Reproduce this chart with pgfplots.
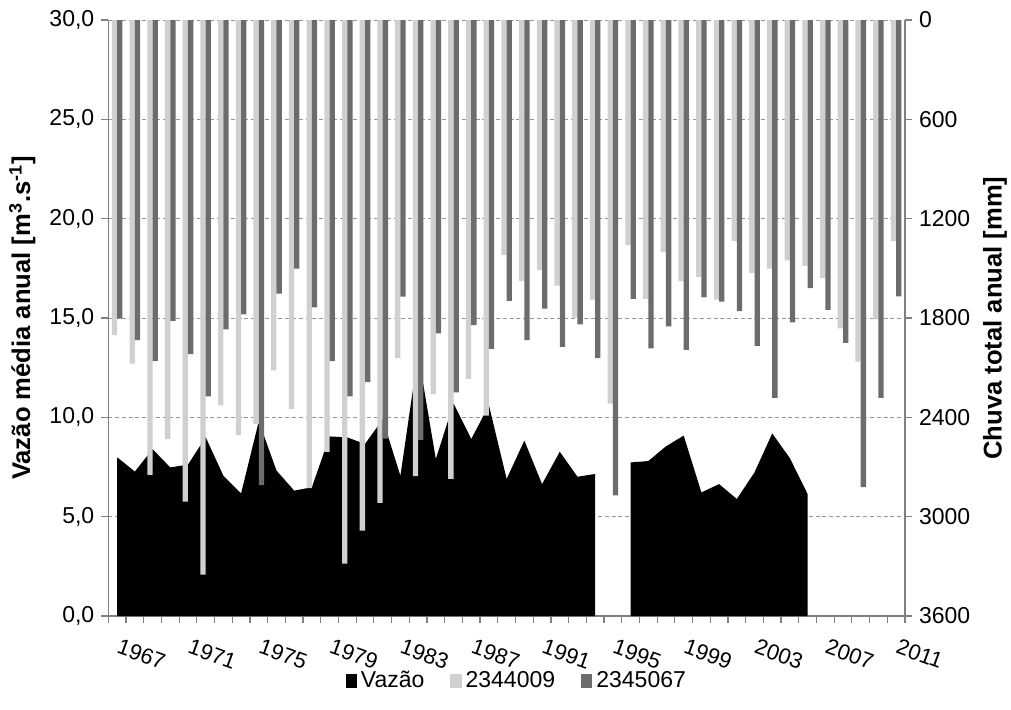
\documentclass[border=0pt]{standalone}
\usepackage{pgfplots}
\pgfplotsset{compat=1.18}
\usepackage{fontspec}
\setmainfont{Liberation Sans}
\definecolor{lightbar}{RGB}{208,208,208}
\definecolor{darkbar}{RGB}{108,108,108}
\definecolor{axgray}{RGB}{128,128,128}
\definecolor{gridgray}{RGB}{150,150,150}
\begin{document}
\begin{tikzpicture}
\pgfplotsset{
  common/.style={
    scale only axis, width=398.35pt, height=298pt,
    at={(0pt,0pt)}, anchor=south west,
    xmin=1966.5, xmax=2011.5,
    tick align=outside,
    major tick length=3.5pt, minor tick length=3.5pt,
    every tick/.style={axgray, line width=0.6pt},
    axis line style={axgray, line width=0.7pt},
    tick label style={font=\fontsize{11.5}{13}\selectfont},
    /pgf/number format/assume math mode=true,
    /pgf/number format/1000 sep={},
  },
}
\begin{axis}[common,
  axis x line*=bottom, axis y line*=left,
  ymin=0, ymax=30, ytick={0,5,...,30},
  yticklabel style={/pgf/number format/.cd, fixed, fixed zerofill, precision=1, use comma},
  ymajorgrids, grid style={gridgray, dash pattern=on 2pt off 1.4pt, line width=0.5pt},
  xtick={1967,1971,...,2011},
  major x tick style={draw=none},
  minor xtick={1966.5,1967.5,...,2011.5},
  xticklabel style={rotate=-20, anchor=north west, xshift=1pt, yshift=-3pt, font=\fontsize{11}{13}\selectfont},
  ylabel={\bfseries Vazão média anual [m\textsuperscript{3}.s\textsuperscript{-1}]},
  every axis y label/.style={at={(axis description cs:-0.108,0.5)}, rotate=90, anchor=center, font=\fontsize{12.8}{14}\selectfont},
]
\addplot[fill=black, draw=none] coordinates {
(1967,7.99) (1968,7.27) (1969,8.40) (1970,7.48) (1971,7.62) (1972,9.00) (1973,7.06)
(1974,6.17) (1975,9.80) (1976,7.32) (1977,6.31) (1978,6.48) (1979,9.04) (1980,8.99)
(1981,8.66) (1982,9.90) (1983,7.06) (1984,13.2) (1985,7.90) (1986,10.7) (1987,8.91)
(1988,10.6) (1989,6.90) (1990,8.83) (1991,6.64) (1992,8.27) (1993,7.01) (1994,7.15)
} \closedcycle;
\addplot[fill=black, draw=none] coordinates {
(1996,7.73) (1997,7.80) (1998,8.54) (1999,9.08) (2000,6.22) (2001,6.64) (2002,5.89)
(2003,7.23) (2004,9.19) (2005,7.94) (2006,6.14)
} \closedcycle;
\end{axis}
\begin{axis}[common,
  axis x line=none, axis y line*=right,
  ymin=0, ymax=3600, y dir=reverse, ytick={0,600,...,3600},
  ybar=0pt, bar width=2.65pt,
  ylabel={\bfseries Chuva total anual [mm]},
  every axis y label/.style={at={(axis description cs:1.113,0.5)}, rotate=90, anchor=center, font=\fontsize{12.8}{14}\selectfont},
  legend style={at={(axis description cs:0.514,-0.109)}, anchor=center, draw=none, fill=none,
    legend columns=3, font=\fontsize{11.5}{13}\selectfont,
    /tikz/every even column/.append style={column sep=11pt},
    inner sep=0pt},
  legend image code/.code={\fill[#1] (0pt,-3.3pt) rectangle (5.6pt,3.3pt);},
]
\addlegendimage{fill=black, draw=none}
\addlegendentry{Vazão}
\addplot[fill=lightbar, draw=none] coordinates {
(1967,1903) (1968,2075) (1969,2748) (1970,2531) (1971,2909) (1972,3350) (1973,2327)
(1974,2508) (1975,2441) (1976,2117) (1977,2349) (1978,2827) (1979,2608) (1980,3283)
(1981,3084) (1982,2917) (1983,2043) (1984,2755) (1985,2259) (1986,2772) (1987,2167)
(1988,2390) (1989,1420) (1990,1577) (1991,1510) (1992,1604) (1993,1798) (1994,1689)
(1995,2317) (1996,1360) (1997,1684) (1998,1402) (1999,1577) (2000,1552) (2001,1689)
(2002,1335) (2003,1527) (2004,1502) (2005,1452) (2006,1485) (2007,1559) (2008,1863)
(2009,2063) (2010,1808) (2011,1335)
};
\addlegendentry{2344009}
\addplot[fill=darkbar, draw=none] coordinates {
(1967,1803) (1968,1933) (1969,2060) (1970,1818) (1971,2018) (1972,2274) (1973,1868)
(1974,1778) (1975,2810) (1976,1652) (1977,1502) (1978,1736) (1979,2060) (1980,2274)
(1981,2187) (1982,2528) (1983,1671) (1984,2536) (1985,1893) (1986,2249) (1987,1843)
(1988,1987) (1989,1696) (1990,1933) (1991,1744) (1992,1975) (1993,1838) (1994,2043)
(1995,2872) (1996,1684) (1997,1983) (1998,1851) (1999,1993) (2000,1676) (2001,1701)
(2002,1759) (2003,1968) (2004,2282) (2005,1826) (2006,1619) (2007,1751) (2008,1950)
(2009,2822) (2010,2282) (2011,1669)
};
\addlegendentry{2345067}
\end{axis}
\pgfresetboundingbox
\useasboundingbox (-54.15pt,-46.5pt) rectangle (451.35pt,308pt);
\end{tikzpicture}
\end{document}
